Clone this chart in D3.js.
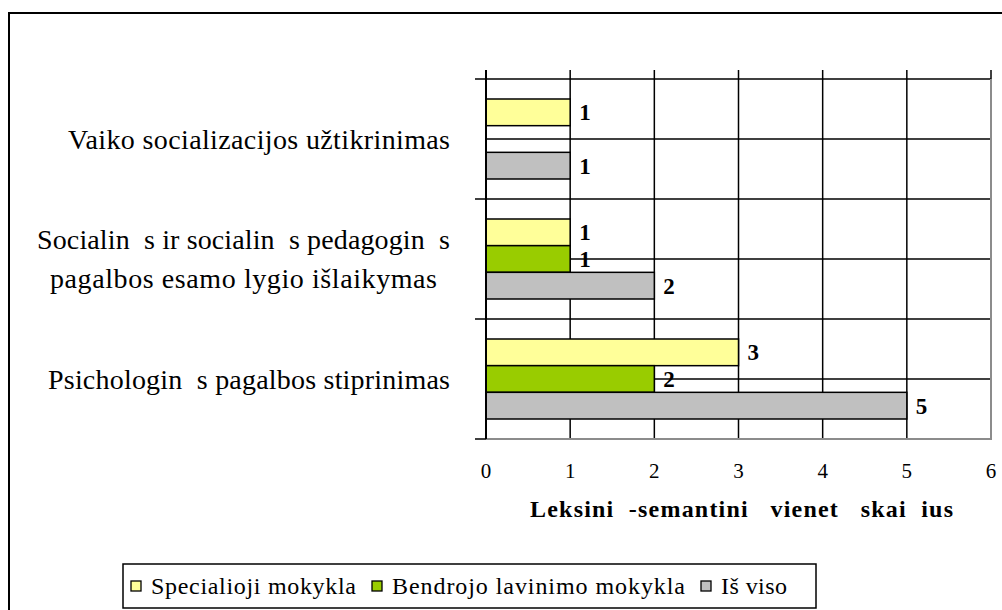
<!DOCTYPE html>
<meta charset="utf-8">
<style>
body { margin: 0; background: #fff; }
text { font-family: "Liberation Serif", "Times New Roman", serif; fill: #000; }
</style>
<svg width="1002" height="610"></svg>
<script src="https://d3js.org/d3.v7.min.js"></script>
<script>

var categories = [
  ["Vaiko socializacijos užtikrinimas"],
  ["Socialin  s ir socialin  s pedagogin  s", "pagalbos esamo lygio išlaikymas"],
  ["Psichologin  s pagalbos stiprinimas"]
];
var series = ["Specialioji mokykla", "Bendrojo lavinimo mokykla", "Iš viso"];
var colors = ["#ffff99", "#99cc00", "#c0c0c0"];
var values = [
  [1, 0, 1],
  [1, 1, 2],
  [3, 2, 5]
];
var ticks = [0, 1, 2, 3, 4, 5, 6];
var axisTitle = "Leksini  -semantini   vienet   skai  ius";

// widths of the stretched word-processor text, per line
var labelWidths = [[382], [413, 387], [402]];
var legendWidths = [205, 293, 66];

var svg = d3.select("svg");

// outer chart border
svg.append("rect")
    .attr("x", 9).attr("y", 13)
    .attr("width", 1010).attr("height", 620)
    .attr("fill", "none")
    .attr("stroke", "#000")
    .attr("stroke-width", 2);

var plotLeft = 486, plotRight = 991, plotTop = 79, plotBottom = 439;

var x = d3.scaleLinear().domain([0, 6]).range([plotLeft, plotRight]);
var y = d3.scaleBand().domain(d3.range(categories.length)).range([plotTop, plotBottom]);
var ySub = d3.scaleBand().domain(d3.range(series.length)).range([20, y.bandwidth() - 20]);

var grid = svg.append("g");

// horizontal lines at band edges and band middles
var hLines = [];
categories.forEach(function(c, i) {
  hLines.push(y(i));
  hLines.push(y(i) + y.bandwidth() / 2);
});
grid.selectAll(".h").data(hLines).enter().append("line")
    .attr("x1", plotLeft).attr("x2", plotRight)
    .attr("y1", function(d) { return d; })
    .attr("y2", function(d) { return d; })
    .attr("stroke", "#000").attr("stroke-width", 1.5);

// vertical gridlines, poking a little above the top
grid.selectAll(".v").data(ticks.slice(1)).enter().append("line")
    .attr("x1", function(d) { return x(d); })
    .attr("x2", function(d) { return x(d); })
    .attr("y1", plotTop - 9)
    .attr("y2", function(d) { return d === 6 ? plotTop : plotBottom; })
    .attr("stroke", "#000").attr("stroke-width", 1.5);

// plot border right + bottom (grey)
grid.append("path")
    .attr("d", "M" + plotRight + "," + plotTop + "V" + plotBottom + "H" + plotLeft)
    .attr("fill", "none")
    .attr("stroke", "#8c8c8c").attr("stroke-width", 2);

// bars + value labels
svg.selectAll(".cat").data(values).enter().append("g")
    .attr("transform", function(d, i) { return "translate(0," + y(i) + ")"; })
  .each(function(row) {
    var g = d3.select(this);
    row.forEach(function(v, j) {
      if (v <= 0) return;
      g.append("rect")
          .attr("x", x(0))
          .attr("y", ySub(j))
          .attr("width", x(v) - x(0))
          .attr("height", ySub.bandwidth())
          .attr("fill", colors[j])
          .attr("stroke", "#000").attr("stroke-width", 1.5);
      g.append("text")
          .attr("x", x(v) + 9)
          .attr("y", ySub(j) + ySub.bandwidth() / 2)
          .attr("dy", "0.35em")
          .style("font-size", "23px")
          .style("font-weight", "bold")
          .text(v);
    });
  });

// category axis line + ticks
var yAxis = svg.append("g");
yAxis.append("line")
    .attr("x1", plotLeft).attr("x2", plotLeft)
    .attr("y1", plotTop - 9).attr("y2", plotBottom)
    .attr("stroke", "#000").attr("stroke-width", 2);
yAxis.selectAll(".t").data(d3.range(categories.length + 1)).enter().append("line")
    .attr("x1", plotLeft - 11).attr("x2", plotLeft)
    .attr("y1", function(d) { return d < categories.length ? y(d) : plotBottom; })
    .attr("y2", function(d) { return d < categories.length ? y(d) : plotBottom; })
    .attr("stroke", "#000").attr("stroke-width", 1.5);

// category labels (block right edge at 450, lines centred in the block)
categories.forEach(function(lines, i) {
  var cy = y(i) + y.bandwidth() / 2;
  var lh = 39;
  var blockW = d3.max(labelWidths[i]);
  var cx = 450 - blockW / 2;
  lines.forEach(function(s, k) {
    svg.append("text")
        .attr("x", cx - labelWidths[i][k] / 2)
        .attr("y", cy + (k - (lines.length - 1) / 2) * lh)
        .attr("dy", "0.35em")
        .attr("textLength", labelWidths[i][k])
        .attr("lengthAdjust", "spacing")
        .style("font-size", "28px")
        .style("white-space", "pre")
        .text(s);
  });
});

// value axis tick labels
svg.selectAll(".xt").data(ticks).enter().append("text")
    .attr("x", function(d) { return x(d); })
    .attr("y", 471)
    .attr("dy", "0.35em")
    .attr("text-anchor", "middle")
    .style("font-size", "21px")
    .text(function(d) { return d; });

svg.append("text")
    .attr("x", 530)
    .attr("y", 509)
    .attr("dy", "0.35em")
    .attr("textLength", 423)
    .attr("lengthAdjust", "spacing")
    .style("font-size", "24px")
    .style("font-weight", "bold")
    .style("white-space", "pre")
    .text(axisTitle);

// legend
var legend = svg.append("g");
legend.append("rect")
    .attr("x", 123).attr("y", 564)
    .attr("width", 693).attr("height", 44)
    .attr("fill", "#fff")
    .attr("stroke", "#000").attr("stroke-width", 1.5);
var lx = 131;
series.forEach(function(s, j) {
  legend.append("rect")
      .attr("x", lx).attr("y", 581)
      .attr("width", 10).attr("height", 10)
      .attr("fill", colors[j])
      .attr("stroke", "#000").attr("stroke-width", 1.3);
  legend.append("text")
      .attr("x", lx + 20)
      .attr("y", 586)
      .attr("dy", "0.35em")
      .attr("textLength", legendWidths[j])
      .attr("lengthAdjust", "spacing")
      .style("font-size", "24px")
      .text(s);
  lx += 20 + legendWidths[j] + 16;
});

</script>
